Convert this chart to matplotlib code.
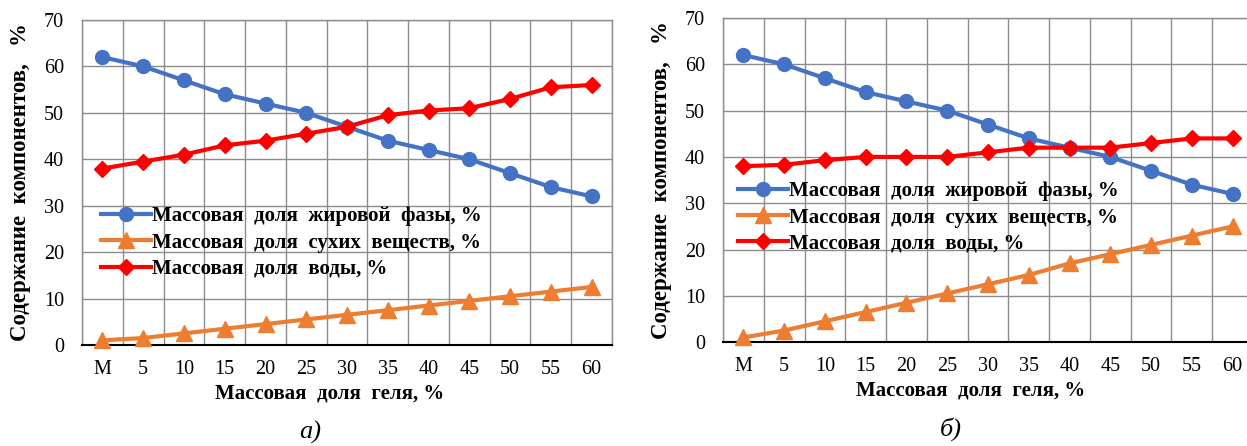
import matplotlib.pyplot as plt

plt.rcParams['font.family'] = ['Liberation Serif', 'DejaVu Serif']

categories = ['М', '5', '10', '15', '20', '25', '30', '35', '40', '45', '50', '55', '60']

# panel а)
fat_a = [62, 60, 57, 54, 52, 50, 47, 44, 42, 40, 37, 34, 32]
dry_a = [1, 1.5, 2.5, 3.5, 4.5, 5.5, 6.5, 7.5, 8.5, 9.5, 10.5, 11.5, 12.5]
water_a = [38, 39.5, 41, 43, 44, 45.5, 47, 49.5, 50.5, 51, 53, 55.5, 56]

# panel б)
fat_b = [62, 60, 57, 54, 52, 50, 47, 44, 42, 40, 37, 34, 32]
dry_b = [1, 2.5, 4.5, 6.5, 8.5, 10.5, 12.5, 14.5, 17, 19, 21, 23, 25]
water_b = [38, 38.3, 39.3, 40, 40, 40, 41, 42, 42, 42, 43, 44, 44]

labels = ['Массовая  доля  жировой  фазы, %',
          'Массовая  доля  сухих  веществ, %',
          'Массовая  доля  воды, %']
colors = ['#4472C4', '#ED7D31', '#FF0000']
markers = ['o', '^', 'D']
msizes = [10, 11, 8]


def draw_panel(ax, series, legend_anchor, caption):
    x = range(len(categories))
    for vals, lab, c, m, ms in zip(series, labels, colors, markers, msizes):
        ax.plot(x, vals, color=c, lw=3, marker=m, ms=ms, label=lab,
                clip_on=False, zorder=3)
    ax.set_xlim(-0.5, len(categories) - 0.5)
    ax.set_ylim(0, 70)
    ax.set_yticks(range(0, 71, 10))
    ax.set_xticks(list(x))
    ax.set_xticklabels(categories)
    # vertical grid between categories
    for b in range(len(categories) + 1):
        ax.axvline(b - 0.5, color='#8c8c8c', lw=1, zorder=1)
    ax.grid(axis='y', color='#8c8c8c', lw=1, zorder=1)
    for s in ['top', 'right', 'left']:
        ax.spines[s].set_color('#8c8c8c')
        ax.spines[s].set_linewidth(1)
    ax.spines['bottom'].set_color('black')
    ax.spines['bottom'].set_linewidth(1.5)
    ax.tick_params(length=0, labelsize=14.5)
    ax.tick_params(axis='y', pad=13)
    ax.tick_params(axis='x', pad=11)
    ax.set_xlabel('Массовая  доля  геля, %', fontsize=15, fontweight='bold')
    ax.xaxis.set_label_coords(0.468, -0.118)
    ax.set_ylabel('Содержание  компонентов,   %', fontsize=16.5,
                  fontweight='bold', labelpad=9)
    ax.legend(loc='upper left', bbox_to_anchor=legend_anchor, frameon=False,
              prop={'weight': 'bold', 'size': 15}, handlelength=2.4,
              handletextpad=0.05, labelspacing=0.3, borderaxespad=0)
    ax.text(0.43, -0.268, caption, transform=ax.transAxes, ha='center',
            va='center', fontsize=19, fontstyle='italic')


fig = plt.figure(figsize=(12.47, 4.46), dpi=100)
ax1 = fig.add_axes([0.0658, 0.2265, 0.425, 0.7287])
ax2 = fig.add_axes([0.5798, 0.233, 0.425, 0.7265])

draw_panel(ax1, [fat_a, dry_a, water_a], (0.02, 0.452), 'а)')
draw_panel(ax2, [fat_b, dry_b, water_b], (0.012, 0.522), 'б)')

fig.savefig('out.png', dpi=100)
